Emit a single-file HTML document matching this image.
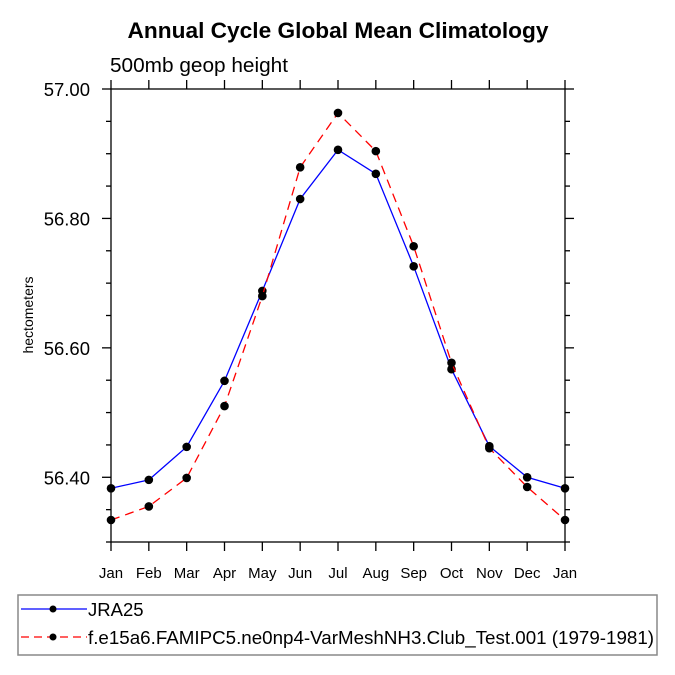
<!DOCTYPE html>
<html><head><meta charset="utf-8"><style>
html,body{margin:0;padding:0;background:#fff;}
svg{display:block;font-family:"Liberation Sans",Arial,sans-serif;}
</style></head><body>
<svg id="chart" width="675" height="675" viewBox="0 0 675 675" xmlns="http://www.w3.org/2000/svg">
<text x="338" y="38" text-anchor="middle" font-size="22.5" font-weight="bold" textLength="421" lengthAdjust="spacingAndGlyphs">Annual Cycle Global Mean Climatology</text>
<text x="110" y="72" font-size="20" textLength="178" lengthAdjust="spacingAndGlyphs">500mb geop height</text>
<text transform="translate(33,315) rotate(-90)" text-anchor="middle" font-size="14">hectometers</text>
<g id="axes"></g>
<g id="series"></g>
<rect x="18" y="595" width="639" height="60" fill="#fff" stroke="#888" stroke-width="1.5"/>
<g>
<line x1="21" y1="609" x2="87" y2="609" stroke="#0000ff" stroke-width="1.3"/>
<circle cx="53" cy="609" r="3.5" fill="#000"/>
<text x="88" y="616" font-size="18.5">JRA25</text>
</g>
<g>
<line x1="21" y1="637" x2="87" y2="637" stroke="#ff0000" stroke-width="1.3" stroke-dasharray="8,5"/>
<circle cx="53" cy="637" r="3.5" fill="#000"/>
<text x="88" y="644" font-size="18.5" textLength="566" lengthAdjust="spacingAndGlyphs">f.e15a6.FAMIPC5.ne0np4-VarMeshNH3.Club_Test.001 (1979-1981)</text>
</g>
</svg>
<script>
const months = ["Jan","Feb","Mar","Apr","May","Jun","Jul","Aug","Sep","Oct","Nov","Dec","Jan"];
const jra25 = [56.383,56.396,56.447,56.549,56.688,56.830,56.906,56.869,56.726,56.567,56.448,56.400,56.383];
const model = [56.334,56.355,56.399,56.510,56.680,56.879,56.963,56.904,56.757,56.577,56.445,56.385,56.334];
const yTicks = [56.40,56.60,56.80,57.00];
const yMin = 56.30, yMax = 57.00;
const L=111,R=565,T=89,B=542;
const NS="http://www.w3.org/2000/svg";
function xs(i){return L+(R-L)*i/(months.length-1);}
function ys(v){return B-(v-yMin)/(yMax-yMin)*(B-T);}
function mk(tag,attrs,parent){const e=document.createElementNS(NS,tag);for(const k in attrs)e.setAttribute(k,attrs[k]);parent.appendChild(e);return e;}
const ax=document.getElementById('axes');
const frame=mk('rect',{x:L,y:T,width:R-L,height:B-T,fill:'none',stroke:'#000','stroke-width':1.3},ax);


months.forEach((m,i)=>{
  const x=xs(i);
  mk('line',{x1:x,y1:B,x2:x,y2:B+9,stroke:'#000','stroke-width':1.3},ax);
  mk('line',{x1:x,y1:T,x2:x,y2:T-9,stroke:'#000','stroke-width':1.3},ax);
  const t=mk('text',{x:x,y:B+36,'text-anchor':'middle','font-size':15},ax);
  t.textContent=m;
  
  
});
for(let v=yMin;v<=yMax+1e-9;v+=0.05){
  const y=ys(v);
  const major=yTicks.some(t=>Math.abs(t-v)<1e-6);
  const len=major?9:5;
  mk('line',{x1:L,y1:y,x2:L-len,y2:y,stroke:'#000','stroke-width':1.3},ax);
  mk('line',{x1:R,y1:y,x2:R+len,y2:y,stroke:'#000','stroke-width':1.3},ax);
}
yTicks.forEach(v=>{
  const t=mk('text',{x:L-21,y:ys(v)+7,'text-anchor':'end','font-size':18.5},ax);
  t.textContent=v.toFixed(2);
  
  
});
const sg=document.getElementById('series');
function draw(vals,color,dash,name){
  const g=mk('g',{},sg);
  
  
  const pts=vals.map((v,i)=>xs(i)+','+ys(v)).join(' ');
  const attrs={points:pts,fill:'none',stroke:color,'stroke-width':1.3};
  if(dash)attrs['stroke-dasharray']=dash;
  mk('polyline',attrs,g);
  vals.forEach((v,i)=>{
    const c=mk('circle',{cx:xs(i),cy:ys(v),r:4.3,fill:'#000'},g);
    
    
  });
}
draw(jra25,'#0000ff',null,'series-jra25');
draw(model,'#ff0000','9,6','series-model');
</script>
</body></html>
